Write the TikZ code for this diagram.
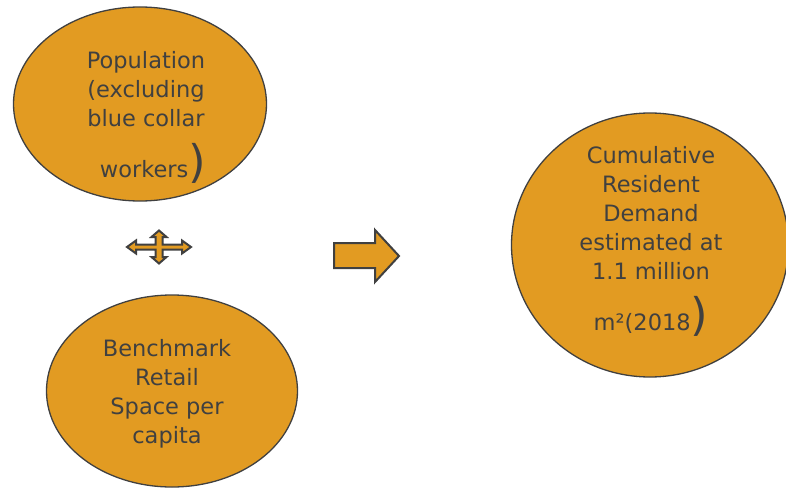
\documentclass[tikz,border=0pt]{standalone}
\usepackage{fontspec}
\setmainfont{DejaVu Sans}
\usetikzlibrary{shapes.geometric}
\definecolor{amber}{HTML}{E29B22}
\definecolor{ink}{HTML}{404040}
\newcommand{\bigparen}{{\fontsize{45}{45}\selectfont )}}

\begin{document}
\begin{tikzpicture}[x=1pt,y=-1pt,
    blob/.style={draw=ink,fill=amber,ellipse,line width=1.3pt,inner sep=0pt},
    words/.style={text=ink,align=center,inner sep=0pt,font=\fontsize{22.5}{29}\selectfont},
    block/.style={draw=ink,fill=amber,line width=2pt,line join=miter}]
    \useasboundingbox (0,0) rectangle (786,489);
    \node [blob,minimum width=253,minimum height=194] (pop) at (140,104) {};
    \node [blob,minimum width=251,minimum height=192] (bench) at (172,391) {};
    \node [blob,minimum width=277,minimum height=264] (demand) at (650,245) {};
    \node [words] (poptext) at (146,117.5) {Population\\(excluding\\blue collar\\[16pt]\hspace*{14pt}workers\bigparen};
    \node [words] (benchtext) at (167,394) {Benchmark\\Retail\\Space per\\capita};
    \node [words] (demandtext) at (651,241.5) {Cumulative\\Resident\\Demand\\estimated at\\1.1 million\\[16pt]m²(2018\bigparen};
    % four-way arrow between the two inputs
    \draw [block,shift={(159,247)}] (32,0) -- (23,-6.5) -- (23,-2.5) -- (3.5,-2.5) -- (3.5,-10)
        -- (7.5,-10) -- (0,-16.5) -- (-7.5,-10) -- (-3.5,-10) -- (-3.5,-2.5) -- (-23,-2.5)
        -- (-23,-6.5) -- (-32,0) -- (-23,6.5) -- (-23,2.5) -- (-3.5,2.5) -- (-3.5,10)
        -- (-7.5,10) -- (0,16.5) -- (7.5,10) -- (3.5,10) -- (3.5,2.5) -- (23,2.5) -- (23,6.5) -- cycle;
    % block arrow towards the result
    \draw [block] (334,243) -- (375,243) -- (375,230) -- (399,256) -- (375,282) -- (375,268) -- (334,268) -- cycle;
\end{tikzpicture}
\end{document}
